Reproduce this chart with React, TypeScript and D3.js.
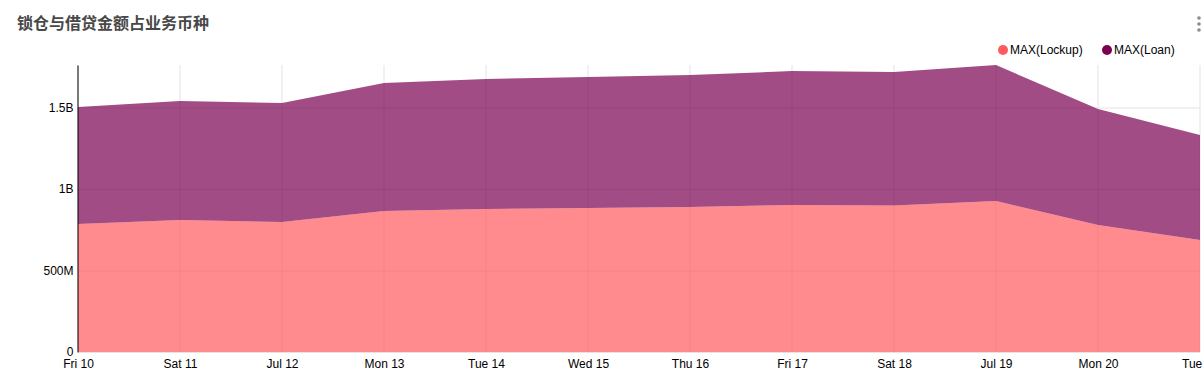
import React, { useRef, useEffect } from "react";
import * as d3 from "d3";

// day labels as shown on the x axis
const days = ["Fri 10", "Sat 11", "Jul 12", "Mon 13", "Tue 14", "Wed 15", "Thu 16", "Fri 17", "Sat 18", "Jul 19", "Mon 20", "Tue 21"];
const lockup = [0.785e9, 0.81e9, 0.798e9, 0.865e9, 0.877e9, 0.883e9, 0.89e9, 0.902e9, 0.899e9, 0.926e9, 0.779e9, 0.687e9];
const loan = [0.718e9, 0.73e9, 0.73e9, 0.785e9, 0.798e9, 0.804e9, 0.809e9, 0.822e9, 0.819e9, 0.835e9, 0.712e9, 0.644e9];
const yTicks = [0, 0.5e9, 1e9, 1.5e9];
const seriesNames = ["MAX(Lockup)", "MAX(Loan)"];
const seriesColors = ["#ff5a5f", "#7b0051"];

const App = () => {
  const svgRef = useRef<SVGSVGElement>(null);

  useEffect(() => {
    const svg = d3.select(svgRef.current);
    svg.selectAll("*").remove();

    const width = 1204;
    const height = 392;
    const margin = { top: 65, right: 4, bottom: 40, left: 78 };

    const rows = days.map((d, i) => ({ day: d, lockup: lockup[i], loan: loan[i] }));
    const stack = d3.stack<any>().keys(["lockup", "loan"]);
    const layers = stack(rows);

    const x = d3
      .scalePoint()
      .domain(days)
      .range([margin.left, width - margin.right]);

    const y = d3
      .scaleLinear()
      .domain([0, d3.max(layers[1], (d) => d[1]) as number])
      .range([height - margin.bottom, margin.top]);

    const font = "'Liberation Sans', Arial, sans-serif";

    // title
    svg
      .append("text")
      .attr("x", 17)
      .attr("y", 29)
      .attr("font-family", "'Noto Sans CJK SC', sans-serif")
      .attr("font-size", 16)
      .attr("font-weight", "bold")
      .attr("fill", "#484848")
      .text("锁仓与借贷金额占业务币种");

    // menu dots
    [18, 24, 30].forEach((cy) =>
      svg.append("circle").attr("cx", 1199).attr("cy", cy).attr("r", 1.8).attr("fill", "#8a8a8a")
    );

    // grid
    const grid = svg.append("g").attr("stroke", "#e3e3e3").attr("stroke-width", 1);
    grid
      .selectAll("line.v")
      .data(days)
      .join("line")
      .attr("x1", (d) => x(d)!)
      .attr("x2", (d) => x(d)!)
      .attr("y1", margin.top)
      .attr("y2", height - margin.bottom);
    grid
      .selectAll("line.h")
      .data(yTicks)
      .join("line")
      .attr("x1", margin.left)
      .attr("x2", width - margin.right)
      .attr("y1", (d) => y(d) + 0.5)
      .attr("y2", (d) => y(d) + 0.5);

    // stacked areas
    const area = d3
      .area<any>()
      .x((d) => x(d.data.day)!)
      .y0((d) => y(d[0]))
      .y1((d) => y(d[1]));

    svg
      .append("g")
      .selectAll("path")
      .data(layers)
      .join("path")
      .attr("d", area)
      .attr("fill", (d, i) => seriesColors[i])
      .attr("fill-opacity", 0.7);

    // y axis
    const yAxis = svg
      .append("g")
      .attr("transform", `translate(${margin.left - 0.5},0)`)
      .call(
        d3
          .axisLeft(y)
          .tickValues(yTicks)
          .tickSize(0)
          .tickPadding(4)
          .tickFormat((d: any) => (d === 0 ? "0" : d3.format(".2~s")(d).replace("G", "B")))
      );
    yAxis.select(".domain").attr("stroke", "#000");
    yAxis.selectAll("text").attr("font-family", font).attr("font-size", 12).attr("fill", "#000");

    // x axis
    const xAxis = svg
      .append("g")
      .attr("transform", `translate(0,${height - margin.bottom})`)
      .call(d3.axisBottom(x).tickSize(0).tickPadding(7));
    xAxis.select(".domain").remove();
    xAxis.selectAll("text").attr("font-family", font).attr("font-size", 12).attr("fill", "#000");

    // legend
    const legendX = [1003, 1107];
    const legend = svg
      .append("g")
      .selectAll("g")
      .data(seriesNames)
      .join("g")
      .attr("transform", (d, i) => `translate(${legendX[i]},50)`);
    legend
      .append("circle")
      .attr("r", 5)
      .attr("fill", (d, i) => seriesColors[i]);
    legend
      .append("text")
      .attr("x", 7)
      .attr("dy", "0.35em")
      .attr("font-family", font)
      .attr("font-size", 12)
      .attr("fill", "#000")
      .text((d) => d);
  }, []);

  return (
    <svg
      ref={svgRef}
      width={1204}
      height={392}
      style={{ position: "absolute", left: 0, top: 0, background: "#fff" }}
    />
  );
};

export default App;
